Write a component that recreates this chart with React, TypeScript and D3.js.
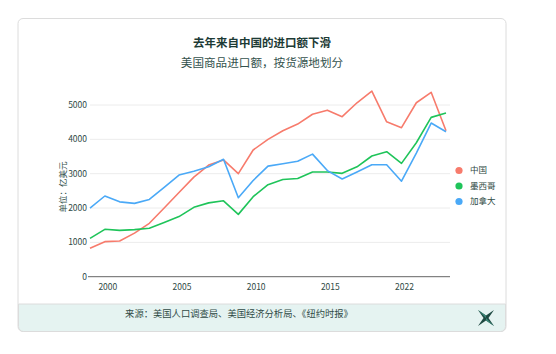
import * as d3 from "d3";

const years = d3.range(1999, 2024);
const china = [830, 1020, 1040, 1270, 1555, 2000, 2450, 2900, 3250, 3400, 3000, 3690, 4000, 4250, 4445, 4730, 4850, 4660, 5065, 5405, 4510, 4340, 5065, 5370, 4250];
const mexico = [1115, 1380, 1350, 1370, 1410, 1580, 1750, 2020, 2150, 2210, 1815, 2330, 2680, 2830, 2860, 3050, 3050, 3010, 3200, 3515, 3640, 3300, 3900, 4640, 4765];
const canada = [2000, 2350, 2180, 2135, 2250, 2600, 2960, 3070, 3200, 3420, 2300, 2800, 3220, 3290, 3360, 3570, 3090, 2845, 3050, 3260, 3260, 2780, 3600, 4475, 4220];

const seriesNames = ["中国", "墨西哥", "加拿大"];
const seriesColors = ["#f77b6c", "#1fc45a", "#4aa9f7"];
const seriesValues = [china, mexico, canada];

const yTicks = [0, 1000, 2000, 3000, 4000, 5000];
const xTicks = [2000, 2005, 2010, 2015, 2020];
const xTickLabels = ["2000", "2005", "2010", "2015", "2022"];

const title = "去年来自中国的进口额下滑";
const subtitle = "美国商品进口额，按货源地划分";
const yLabel = "单位：亿美元";
const source = "来源：美国人口调查局、美国经济分析局、《纽约时报》";

const FONT = "'Noto Sans CJK SC', 'Noto Sans', sans-serif";
const INK = "#1d3b36";

export default function App() {
  const x = d3.scaleLinear().domain([1999, 2023]).range([90, 446]);
  const y = d3.scaleLinear().domain([0, 5000]).range([276.7, 105]);
  const line = d3
    .line<number>()
    .x((_, i) => x(years[i]))
    .y((d) => y(d));

  return (
    <div style={{ position: "fixed", left: 0, top: 0 }}>
      <svg width={556} height={354} viewBox="0 0 556 354" style={{ display: "block", fontFamily: FONT }}>
        <rect width={556} height={354} fill="#fff" />
        {/* card */}
        <rect x={18} y={18.5} width={488} height={313} rx={5} fill="#fff" stroke="#dcdcdc" />
        <path d="M18.5,304 H505.5 V326.5 a5,5 0 0 1 -5,5 H23.5 a5,5 0 0 1 -5,-5 Z" fill="#e5f3f1" stroke="#dcdcdc" />

        <text x={262} y={47} textAnchor="middle" fontSize={11.5} fontWeight={700} fill={INK}>
          {title}
        </text>
        <text x={262} y={67} textAnchor="middle" fontSize={11.6} fill="#34524d">
          {subtitle}
        </text>

        {/* grid + y ticks */}
        {yTicks.map((t) => (
          <g key={t}>
            {t > 0 && <line x1={90} x2={450} y1={y(t)} y2={y(t)} stroke="#ececec" strokeWidth={1} />}
            <text x={87} y={y(t)} dy="0.35em" textAnchor="end" fontSize={8.5} fill="#2f4a45">
              {t}
            </text>
          </g>
        ))}
        <line x1={88} x2={450} y1={y(0)} y2={y(0)} stroke="#666" strokeWidth={1} />

        {xTicks.map((t, i) => (
          <text key={t} x={x(t) + 3} y={290} textAnchor="middle" fontSize={8.5} fill="#2f4a45">
            {xTickLabels[i]}
          </text>
        ))}

        <text
          transform={`translate(66,187) rotate(-90)`}
          textAnchor="middle"
          fontSize={8.5}
          fill="#34524d"
        >
          {yLabel}
        </text>

        {/* lines */}
        {seriesValues.map((vals, i) => (
          <path key={i} d={line(vals) ?? ""} fill="none" stroke={seriesColors[i]} strokeWidth={1.6} strokeLinejoin="round" />
        ))}

        {/* legend */}
        {seriesNames.map((n, i) => (
          <g key={n} transform={`translate(459,${170.5 + i * 15.5})`}>
            <circle r={3.6} fill={seriesColors[i]} />
            <text x={11} dy="0.35em" fontSize={8.5} fill="#2f4a45">
              {n}
            </text>
          </g>
        ))}

        <text x={239} y={317} textAnchor="middle" fontSize={9.3} fill="#2f4a45">
          {source}
        </text>

        {/* logo */}
        <g transform="translate(486,318)">
          <path d="M-8,-8 L0,-2.5 L8,-8 L2.5,0 L8,8 L0,2.5 L-8,8 L-2.5,0 Z" fill="#1e4a42" />
          <path d="M-8,-8 L0,-2.5 L0,0 Z M8,8 L0,2.5 L0,0 Z" fill="#3c8a7a" />
        </g>
      </svg>
    </div>
  );
}
